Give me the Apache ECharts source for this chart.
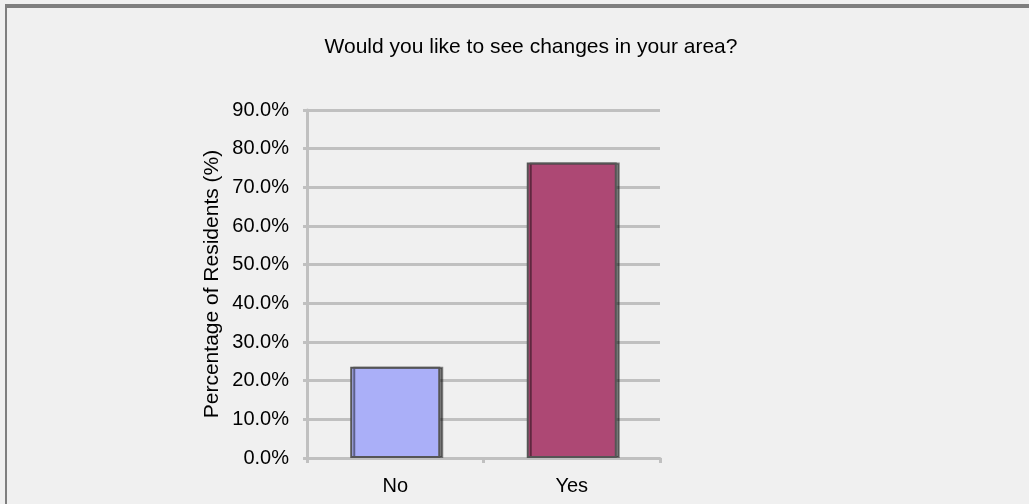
<!DOCTYPE html>
<html>
<head>
<meta charset="utf-8">
<script src="https://cdn.jsdelivr.net/npm/echarts@6/dist/echarts.min.js"></script>
<style>
html,body{margin:0;padding:0;background:#f0f0f0;}
#frame{position:absolute;left:5px;top:4px;width:1024px;height:500px;border-top:4px solid #7f7f7f;border-left:2px solid #7f7f7f;box-sizing:border-box;}
#chart{position:absolute;left:0;top:0;width:1029px;height:504px;}
</style>
</head>
<body>
<div id="chart"></div>
<div id="frame"></div>
<script>
const categories = ['No', 'Yes'];
const values = [23.6, 76.4];
const barColors = ['#aaaff8', '#ad4874'];
const yTicks = [0, 10, 20, 30, 40, 50, 60, 70, 80, 90];

const chart = echarts.init(document.getElementById('chart'));
const font = 'Liberation Sans, Arial, sans-serif';
chart.setOption({
  backgroundColor: '#f0f0f0',
  animation: false,
  title: {
    text: 'Would you like to see changes in your area?',
    left: 526, top: 32, textAlign: 'center',
    textStyle: {fontFamily: font, fontSize: 21, fontWeight: 'normal', color: '#000'}
  },
  grid: {left: 307, right: 369, top: 110, bottom: 46, containLabel: false},
  xAxis: {
    type: 'category',
    data: categories,
    axisLine: {show: true, lineStyle: {color: '#c0c0c0', width: 3}},
    axisTick: {show: true, length: 5, lineStyle: {color: '#c0c0c0', width: 3}},
    axisLabel: {fontFamily: font, fontSize: 20, color: '#000', margin: 18}
  },
  yAxis: {
    type: 'value',
    min: 0, max: 90, interval: 10,
    name: 'Percentage of Residents (%)',
    nameLocation: 'middle',
    nameGap: 84,
    nameRotate: 90,
    nameTextStyle: {fontFamily: font, fontSize: 21, color: '#000'},
    axisLine: {show: true, lineStyle: {color: '#c0c0c0', width: 3}},
    axisTick: {show: true, length: 4, lineStyle: {color: '#c0c0c0', width: 3}},
    axisLabel: {fontFamily: font, fontSize: 20, color: '#000', margin: 18,
      formatter: v => yTicks.includes(v) ? v.toFixed(1) + '%' : ''},
    splitLine: {show: true, lineStyle: {color: '#c0c0c0', width: 3}}
  },
  series: [{
    type: 'bar',
    barWidth: '51%',
    data: values.map((v, i) => ({value: v, itemStyle: {color: barColors[i]}})),
    itemStyle: {borderColor: '#555', borderWidth: 2, shadowColor: 'rgba(0,0,0,0.45)', shadowOffsetX: 3, shadowOffsetY: 0, shadowBlur: 0}
  }]
});
</script>
</body>
</html>
